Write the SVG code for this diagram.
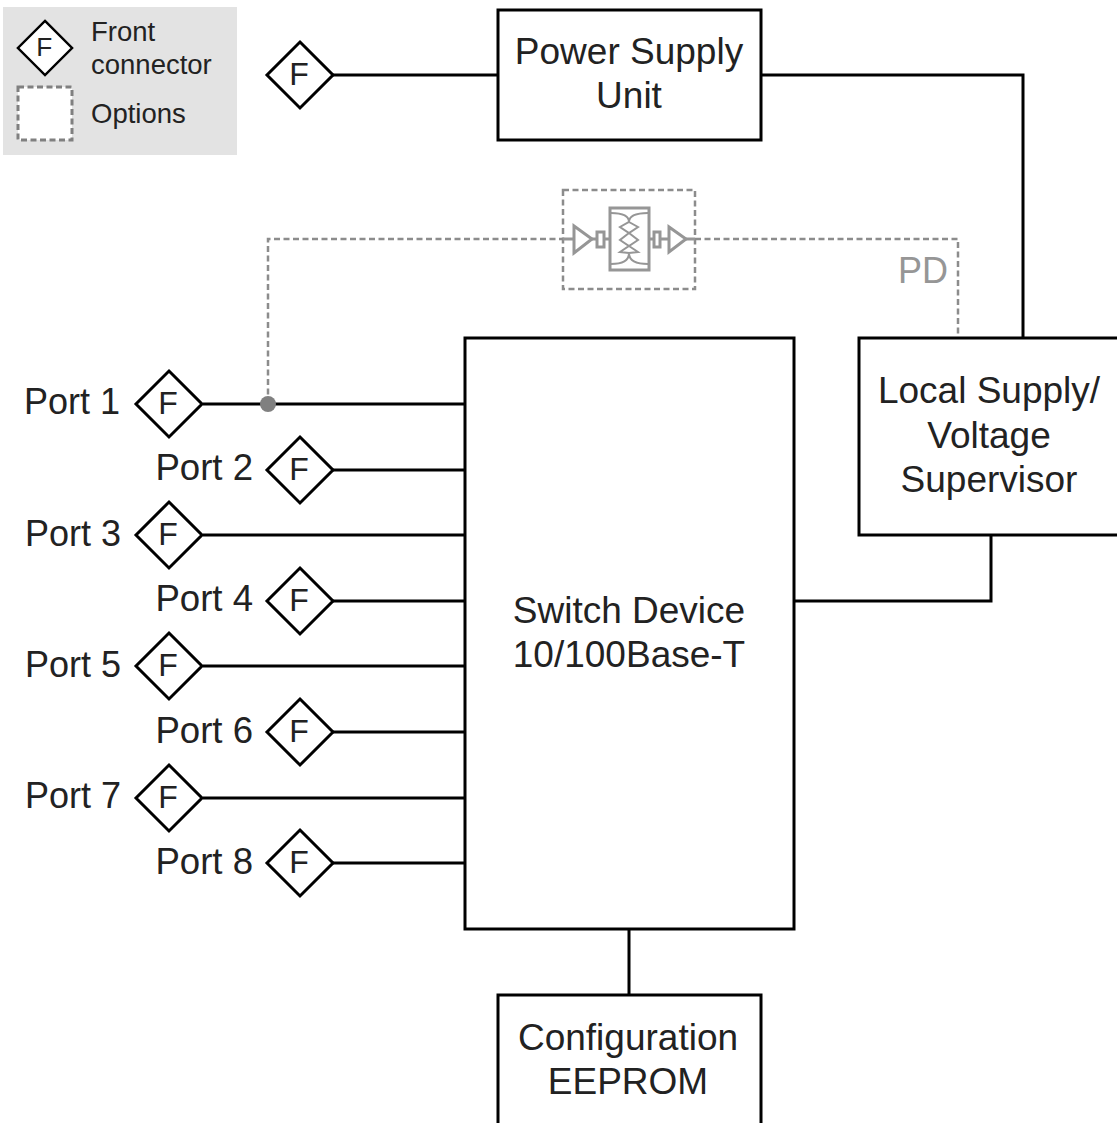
<svg xmlns="http://www.w3.org/2000/svg" width="1117" height="1123" viewBox="0 0 1117 1123">
<defs>
<g id="fc"><polygon points="0,-33 33,0 0,33 -33,0" class="dia"/><text x="-1" y="10" class="f">F</text></g>
</defs>
<style>
text{font-family:"Liberation Sans",Arial,sans-serif;fill:#222}
.box{fill:#fff;stroke:#000;stroke-width:3}
.dia{fill:#fff;stroke:#000;stroke-width:3;stroke-linejoin:miter}
.f{font-size:32px;text-anchor:middle}
.t{font-size:37px;text-anchor:middle}
.p{font-size:36px;text-anchor:end}
.q{font-size:36.6px;text-anchor:end}
.l{font-size:27.5px}
.w{fill:none;stroke:#000;stroke-width:3}
.d{fill:none;stroke:#8c8c8c;stroke-width:2.5;stroke-dasharray:6 3.5}
.o{fill:none;stroke:#969696;stroke-width:3}
.c{fill:none;stroke:#969696;stroke-width:2}
</style>
<rect x="3" y="7" width="234" height="148" fill="#e3e3e3"/>
<g id="connectors">
<path class="w" d="M333 75H498M761 75H1023V338M203 404H465M333 470H465M203 535H465M333 601H465M203 666H465M333 732H465M203 798H465M333 863H465M794 601H991V535M629 929V995"/>
<path class="d" d="M268 404V239H563M695 239H958V338"/>
<circle cx="268" cy="404" r="8" fill="#808080"/>
</g>
<g id="legend">
<g transform="translate(45,48) scale(.82)"><use href="#fc"/></g>
<rect x="18" y="87" width="54" height="53" fill="#fff" stroke="#808080" stroke-width="3" stroke-dasharray="6 3.5"/>
<text class="l" x="91" y="41">Front</text>
<text class="l" x="91" y="74">connector</text>
<text class="l" x="91" y="123">Options</text>
</g>
<g id="psu-connector"><use href="#fc" x="300" y="75"/></g>
<g id="psu"><rect class="box" x="498" y="10" width="263" height="130"/><text class="t" x="629" y="64">Power Supply</text><text class="t" x="629" y="108">Unit</text></g>
<g id="option">
<rect x="563" y="190" width="132" height="99" fill="none" stroke="#8c8c8c" stroke-width="2.5" stroke-dasharray="6 3.5"/>
<path class="o" d="M563 239H574M592 239H597M604 239H610M649 239H653M660 239H668M686 239H695"/>
<polygon class="o" points="574,226 574,253 592,239"/>
<polygon class="o" points="669,227 669,252 686,239"/>
<rect class="o" x="597" y="232" width="7" height="15"/>
<rect class="o" x="654" y="232" width="6" height="15"/>
<rect class="o" x="610" y="208" width="39" height="62"/>
<path class="c" d="M611 213C622 213 629 216 629 222C629 216 636 213 648 213M611 264C622 264 629 261 629 253C629 261 636 264 648 264M629 222L638 227L629 233L620 227ZM629 233L638 240L629 246L620 240ZM629 246L638 252L629 253L620 252Z"/>
</g>
<g id="pd"><text x="923" y="283" font-size="36" text-anchor="middle" style="fill:#969696">PD</text></g>
<g id="local-supply"><rect class="box" x="859" y="338" width="262" height="197"/><text class="t" x="989" y="403">Local Supply/</text><text class="t" x="989" y="448">Voltage</text><text class="t" x="989" y="492">Supervisor</text></g>
<g id="switch"><rect class="box" x="465" y="338" width="329" height="591"/><text class="t" x="629" y="623">Switch Device</text><text class="t" x="629" y="667">10/100Base-T</text></g>
<g id="eeprom"><rect class="box" x="498" y="995" width="263" height="133"/><text class="t" x="628" y="1050">Configuration</text><text class="t" x="628" y="1094">EEPROM</text></g>
<g id="port1"><use href="#fc" x="169" y="404"/><text class="p" x="120" y="414">Port 1</text></g>
<g id="port2"><use href="#fc" x="300" y="470"/><text class="q" x="253" y="480">Port 2</text></g>
<g id="port3"><use href="#fc" x="169" y="535"/><text class="p" x="121" y="546">Port 3</text></g>
<g id="port4"><use href="#fc" x="300" y="601"/><text class="q" x="253" y="611">Port 4</text></g>
<g id="port5"><use href="#fc" x="169" y="666"/><text class="p" x="121" y="677">Port 5</text></g>
<g id="port6"><use href="#fc" x="300" y="732"/><text class="q" x="253" y="743">Port 6</text></g>
<g id="port7"><use href="#fc" x="169" y="798"/><text class="p" x="121" y="808">Port 7</text></g>
<g id="port8"><use href="#fc" x="300" y="863"/><text class="q" x="253" y="874">Port 8</text></g>
</svg>
